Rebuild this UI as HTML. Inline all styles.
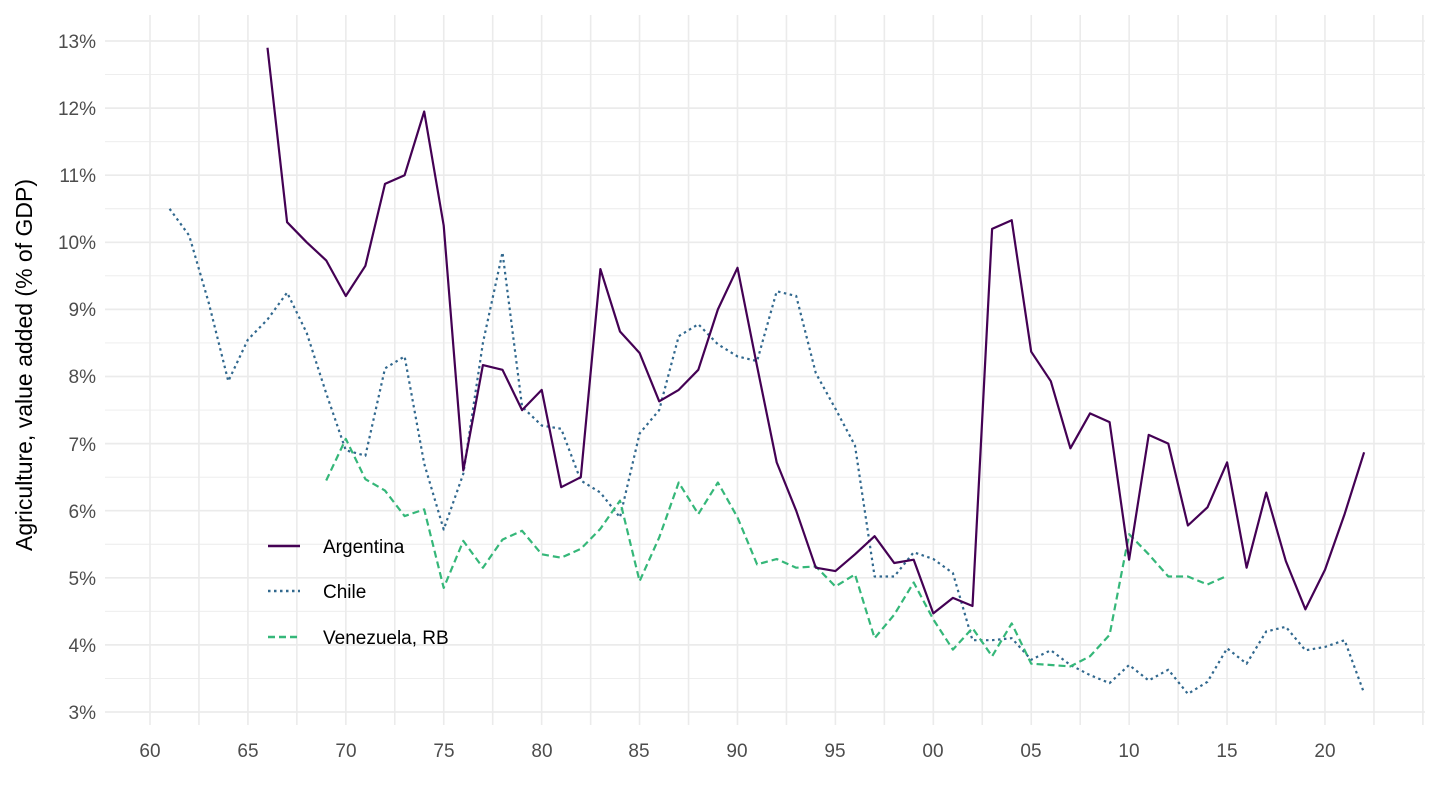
<!DOCTYPE html>
<html><head><meta charset="utf-8"><style>
html,body{margin:0;padding:0;background:#fff;width:1440px;height:810px;overflow:hidden}
text{font-family:"Liberation Sans",Arial,sans-serif}
</style></head><body>
<svg id="s" width="1440" height="810" xmlns="http://www.w3.org/2000/svg">
<g id="grid"></g>
<g id="lines"></g>
<g fill="#4d4d4d" font-size="19" text-anchor="end">
<text x="96" y="48">13%</text><text x="96" y="115">12%</text><text x="96" y="182">11%</text><text x="96" y="249">10%</text>
<text x="96" y="316">9%</text><text x="96" y="383">8%</text><text x="96" y="451">7%</text><text x="96" y="518">6%</text>
<text x="96" y="585">5%</text><text x="96" y="652">4%</text><text x="96" y="719">3%</text>
</g>
<g fill="#4d4d4d" font-size="19" text-anchor="middle">
<text x="150" y="757">60</text><text x="248" y="757">65</text><text x="346" y="757">70</text><text x="444" y="757">75</text>
<text x="542" y="757">80</text><text x="639" y="757">85</text><text x="737" y="757">90</text><text x="835" y="757">95</text>
<text x="933" y="757">00</text><text x="1031" y="757">05</text><text x="1129" y="757">10</text><text x="1227" y="757">15</text>
<text x="1325" y="757">20</text>
</g>
<text transform="translate(32,365) rotate(-90)" font-size="23" text-anchor="middle" fill="#000">Agriculture, value added (% of GDP)</text>
<g stroke-width="2.4" fill="none">
<line x1="268" y1="546" x2="300" y2="546" stroke="#440154"/>
<line x1="268" y1="591" x2="300" y2="591" stroke="#31688e" stroke-dasharray="2.5,3.5"/>
<line x1="268" y1="637" x2="300" y2="637" stroke="#35b779" stroke-dasharray="7,4"/>
</g>
<g font-size="19" fill="#000">
<text x="323" y="553">Argentina</text><text x="323" y="598">Chile</text><text x="323" y="644">Venezuela, RB</text>
</g>
</svg>
<script>
var X=function(y){return 150+(y-1960)*19.583}, Y=function(v){return 712-(v-3)*67.1};
var g=document.getElementById('grid'),L=document.getElementById('lines'),ns="http://www.w3.org/2000/svg";
function ln(p,a){var e=document.createElementNS(ns,p);for(var k in a)e.setAttribute(k,a[k]);return e}
for(var v=3;v<=13.01;v+=0.5){var maj=Math.abs(v-Math.round(v))<0.01;g.appendChild(ln('line',{x1:105,x2:1425,y1:Y(v),y2:Y(v),stroke:'#ebebeb','stroke-width':maj?1.7:0.9}))}
for(var yr=1957.5;yr<=2025;yr+=2.5){var x=X(yr);if(x<105||x>1425)continue;g.appendChild(ln('line',{x1:x,x2:x,y1:15,y2:725,stroke:'#ebebeb','stroke-width':1.6}))}
function pl(start,d,col,dash){var p=d.map(function(v,i){return X(start+i).toFixed(1)+','+Y(v).toFixed(1)}).join(' ');var a={points:p,fill:'none',stroke:col,'stroke-width':2.2,'stroke-linejoin':'round'};if(dash)a['stroke-dasharray']=dash;L.appendChild(ln('polyline',a))}
pl(1961,[10.5,10.1,9.1,7.93,8.55,8.85,9.25,8.65,7.75,6.9,6.82,8.12,8.3,6.7,5.72,6.55,8.5,9.85,7.55,7.27,7.22,6.45,6.27,5.9,7.15,7.5,8.6,8.78,8.48,8.3,8.23,9.27,9.2,8.05,7.52,6.97,5.02,5.02,5.38,5.28,5.07,4.07,4.07,4.1,3.78,3.92,3.7,3.55,3.43,3.7,3.47,3.63,3.27,3.45,3.95,3.72,4.2,4.27,3.92,3.97,4.07,3.28],'#31688e','2.5,3.5');
pl(1969,[6.45,7.07,6.47,6.3,5.92,6.02,4.85,5.55,5.15,5.57,5.7,5.35,5.3,5.43,5.73,6.15,4.95,5.6,6.42,5.95,6.42,5.9,5.2,5.28,5.15,5.17,4.87,5.05,4.1,4.45,4.93,4.38,3.93,4.25,3.83,4.32,3.72,3.7,3.68,3.83,4.15,5.65,5.35,5.02,5.02,4.9,5.03],'#35b779','7,4');
pl(1966,[12.9,10.3,10.0,9.73,9.2,9.65,10.87,11.0,11.95,10.25,6.6,8.17,8.1,7.5,7.8,6.35,6.5,9.6,8.67,8.35,7.63,7.8,8.1,9.0,9.62,8.15,6.72,6.0,5.15,5.1,5.35,5.62,5.22,5.27,4.47,4.7,4.58,10.2,10.33,8.37,7.93,6.93,7.45,7.32,5.27,7.13,7.0,5.78,6.05,6.72,5.15,6.27,5.25,4.53,5.12,5.95,6.87],'#440154');
</script>
</body></html>
